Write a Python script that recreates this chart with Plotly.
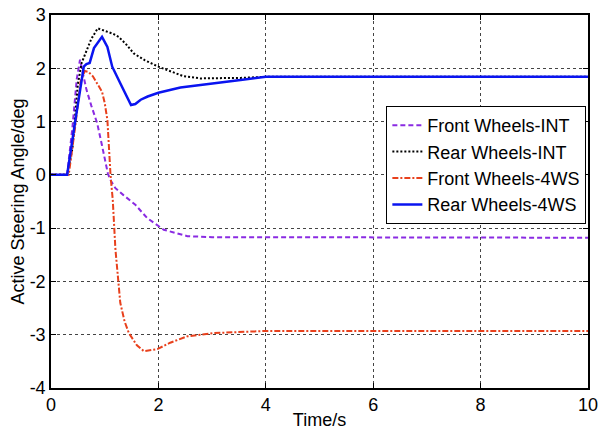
import plotly.graph_objects as go

# Front Wheels-INT (purple dashed)
fi_t = [0, 0.3, 0.4, 0.48, 0.54, 0.6, 0.66, 0.75, 0.86, 0.95, 1.01, 1.06, 1.12, 1.2, 1.35, 1.57, 1.79, 2.1, 2.54, 3.0, 4.0, 6.0, 8.0, 10.0]
fi_v = [0, 0, 0.9, 1.8, 2.16, 1.85, 1.6, 1.3, 0.97, 0.55, 0.25, 0.02, -0.12, -0.25, -0.38, -0.56, -0.81, -1.03, -1.15, -1.17, -1.17, -1.17, -1.17, -1.18]

# Rear Wheels-INT (black dotted)
ri_t = [0, 0.3, 0.4, 0.5, 0.57, 0.65, 0.75, 0.87, 1.0, 1.15, 1.26, 1.4, 1.54, 1.75, 2.0, 2.25, 2.47, 2.78, 3.2, 3.53, 4.0, 6.0, 8.0, 10.0]
ri_v = [0, 0, 0.5, 1.7, 2.1, 2.3, 2.55, 2.75, 2.7, 2.65, 2.59, 2.45, 2.28, 2.15, 2.03, 1.93, 1.85, 1.81, 1.81, 1.82, 1.84, 1.84, 1.84, 1.84]

# Front Wheels-4WS (red dash-dot)
f4_t = [0, 0.33, 0.45, 0.55, 0.63, 0.7, 0.78, 0.86, 0.95, 1.0, 1.05, 1.08, 1.11, 1.15, 1.2, 1.29, 1.37, 1.45, 1.6, 1.73, 1.98, 2.22, 2.54, 3.03, 3.53, 4.0, 6.0, 8.0, 10.0]
f4_v = [0, 0, 0.9, 1.75, 1.95, 1.93, 1.85, 1.72, 1.56, 1.35, 1.03, 0.5, -0.03, -0.47, -1.4, -2.4, -2.75, -2.97, -3.2, -3.31, -3.27, -3.15, -3.03, -2.97, -2.95, -2.93, -2.93, -2.93, -2.93]

# Rear Wheels-4WS (blue solid)
r4_t = [0, 0.3, 0.45, 0.61, 0.66, 0.72, 0.8, 0.95, 1.05, 1.14, 1.29, 1.4, 1.49, 1.57, 1.67, 1.8, 2.0, 2.41, 3.0, 3.53, 4.0, 6.0, 8.0, 10.0]
r4_v = [0, 0, 1.0, 2.03, 2.08, 2.1, 2.38, 2.59, 2.4, 2.03, 1.72, 1.5, 1.31, 1.33, 1.41, 1.47, 1.54, 1.64, 1.72, 1.78, 1.84, 1.84, 1.84, 1.84]

x_ticks = [0, 2, 4, 6, 8, 10]
x_labels = ["0", "2", "4", "6", "8", "10"]
y_ticks = [-4, -3, -2, -1, 0, 1, 2, 3]
y_labels = ["-4", "-3", "-2", "-1", "0", "1", "2", "3"]

FONT = "Liberation Sans, Arial"

fig = go.Figure()
fig.add_trace(go.Scatter(x=fi_t, y=fi_v, mode="lines", name="Front Wheels-INT",
                         line=dict(color="#8a2be2", width=2, dash="5px,3px")))
fig.add_trace(go.Scatter(x=ri_t, y=ri_v, mode="lines", name="Rear Wheels-INT",
                         line=dict(color="black", width=2, dash="2px,2px")))
fig.add_trace(go.Scatter(x=f4_t, y=f4_v, mode="lines", name="Front Wheels-4WS",
                         line=dict(color="#e8401c", width=2, dash="6px,2px,2px,2px")))
fig.add_trace(go.Scatter(x=r4_t, y=r4_v, mode="lines", name="Rear Wheels-4WS",
                         line=dict(color="#0a14f0", width=2.5)))

axis_common = dict(
    showline=True, linecolor="black", linewidth=1.5, mirror="ticks",
    ticks="inside", ticklen=5, tickcolor="black",
    showgrid=True, gridcolor="#444444", gridwidth=1, griddash="3px,3px",
    zeroline=False, automargin=False, ticklabeloverflow="allow",
    tickfont=dict(family=FONT, size=18, color="black"),
    title_font=dict(family=FONT, size=18, color="black"),
)

fig.update_xaxes(range=[0, 10], tickvals=x_ticks, ticktext=x_labels,
                 title_text="Time/s", title_standoff=0, **axis_common)
fig.update_yaxes(range=[-4, 3], tickvals=y_ticks, ticktext=y_labels,
                 title_text="Active Steering Angle/deg", title_standoff=0, **axis_common)

fig.update_layout(
    width=599, height=430,
    margin=dict(l=50.5, r=11.3, t=15, b=41.5),
    plot_bgcolor="white", paper_bgcolor="white",
    legend=dict(x=0.6245, y=0.756, xanchor="left", yanchor="top",
                bgcolor="white", bordercolor="black", borderwidth=1,
                font=dict(family=FONT, size=18, color="black"),
                tracegroupgap=0, itemwidth=30),
    showlegend=True,
)

fig.write_html("out.html", config={"displayModeBar": False},
               post_script="document.body.style.margin='0';document.body.style.padding='0';")
